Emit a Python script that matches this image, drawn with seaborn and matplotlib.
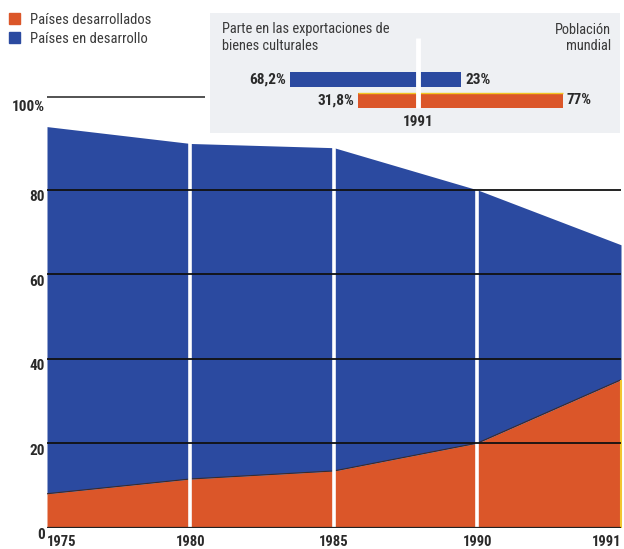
import numpy as np
import pandas as pd
import matplotlib
matplotlib.use("Agg")
import matplotlib.pyplot as plt
import matplotlib.transforms as mtransforms
from matplotlib.patches import Patch
import seaborn as sns

# ---------------- data ----------------
years = ["1975", "1980", "1985", "1990", "1991"]
desarrollados = [8.0, 11.5, 13.4, 20.0, 35.0]      # orange band (bottom)
en_desarrollo = [87.0, 79.5, 76.6, 60.0, 32.0]     # blue band (stacked on top)
y_ticks = [0, 20, 40, 60, 80]
y_tick_labels = ["0", "20", "40", "60", "80", "100%"]
legend_labels = ["Países desarrollados", "Países en desarrollo"]

inset_export = [68.2, 31.8]          # blue, orange
inset_population = [23, 77]          # blue, orange
inset_export_labels = ["68,2%", "31,8%"]
inset_population_labels = ["23%", "77%"]
inset_year = "1991"
inset_left_title = "Parte en las exportaciones de\nbienes culturales"
inset_right_title = "Población\nmundial"

BLUE = "#2b4aa0"
ORANGE = "#db5629"
TXT = "#2a2a2a"

sns.set_style("white")
plt.rcParams["font.family"] = ["Liberation Sans Narrow", "Roboto Condensed", "Roboto", "DejaVu Sans"]

W, H = 624, 549
fig = plt.figure(figsize=(W / 100, H / 100), dpi=100)
fig.patch.set_facecolor("white")

# ---------------- main stacked area ----------------
PX_PER_UNIT = 4.22
ax = fig.add_axes([47 / W, (H - 527.5) / H, (621 - 47) / W, 104 * PX_PER_UNIT / H])
ax.set_facecolor("none")

df = pd.DataFrame({"year": years, "x": np.arange(len(years)),
                   "desarrollados": desarrollados, "en_desarrollo": en_desarrollo})
df["top"] = df["desarrollados"] + df["en_desarrollo"]

ax.fill_between(df["x"], 0, df["desarrollados"], color=ORANGE, lw=0, zorder=1)
ax.fill_between(df["x"], df["desarrollados"], df["top"], color=BLUE, lw=0, zorder=1)
sns.lineplot(data=df, x="x", y="desarrollados", ax=ax, color="#3b2b2b", lw=0.8, zorder=2)

inner = df.iloc[1:-1]
ax.vlines(inner["x"], 0, inner["top"], colors="white", lw=2.6, zorder=3)
ax.vlines(df["x"].iloc[-1], 0, df["desarrollados"].iloc[-1], colors="#f2c530", lw=1.5,
          zorder=3, clip_on=False)

for v in y_ticks[1:]:
    ax.axhline(v, color="#111111", lw=1.3, zorder=4)
ax.axhline(0, color="#222222", lw=1.6, zorder=4)
ax.hlines(102, 0, 1.1, color="#444444", lw=1.3, zorder=4)

ax.set_xlim(0, len(years) - 1)
ax.set_ylim(0, 104)
for s in ax.spines.values():
    s.set_visible(False)

ax.set_yticks(y_ticks + [101.5])
ax.set_yticklabels(y_tick_labels, fontweight="bold", fontsize=11, color=TXT)
ax.tick_params(axis="y", length=0, pad=1.5)
off = mtransforms.ScaledTranslation(0, -6 / 100, fig.dpi_scale_trans)
for lab in ax.get_yticklabels():
    lab.set_transform(lab.get_transform() + off)

ax.set_xticks(df["x"])
ax.set_xticklabels(years, fontweight="bold", fontsize=10.5, color=TXT)
ax.tick_params(axis="x", length=0, pad=5.5)
xl = ax.get_xticklabels()
xl[0].set_ha("left")
xl[-1].set_ha("right")
ax.set_xlabel("")
ax.set_ylabel("")

# ---------------- inset box ----------------
CENTER = 418
PX_PER_PCT = 1.88
iax = fig.add_axes([210 / W, 1 - 133 / H, 410 / W, 120 / H])
iax.set_zorder(5)
iax.set_facecolor("#eef0f3")
iax.set_xlim(-(CENTER - 210) / PX_PER_PCT, (620 - CENTER) / PX_PER_PCT)
iax.set_ylim(133, 13)
for s in iax.spines.values():
    s.set_visible(False)
iax.set_xticks([])
iax.set_yticks([])

rows = [79.5, 100.5]
colors = [BLUE, ORANGE]
iax.barh(rows, [-v for v in inset_export], height=15, color=colors, lw=0, zorder=2)
iax.barh(rows, inset_population, height=15, color=colors, lw=0, zorder=2)
iax.hlines(rows[1] - 7.5, -inset_export[1], inset_population[1], color="#f3c623", lw=1, zorder=3)
iax.vlines(0, 38, rows[1] + 7.5, color="white", lw=3.5, zorder=4)

for r, v, lab in zip(rows, inset_export, inset_export_labels):
    iax.annotate(lab, (-v, r), xytext=(-2.5, 0), textcoords="offset points",
                 ha="right", va="center", fontsize=11, fontweight="bold", color=TXT)
for r, v, lab in zip(rows, inset_population, inset_population_labels):
    iax.annotate(lab, (v, r), xytext=(3, 0), textcoords="offset points",
                 ha="left", va="center", fontsize=11, fontweight="bold", color=TXT)
iax.text(0, 121.5, inset_year, ha="center", va="center", fontsize=11,
         fontweight="bold", color=TXT)
iax.text((222 - CENTER) / PX_PER_PCT, 22.5, inset_left_title, ha="left", va="top",
         fontsize=10.4, color="#3a3a3a", linespacing=1.25)
iax.text((611 - CENTER) / PX_PER_PCT, 22.5, inset_right_title, ha="right", va="top",
         fontsize=10.4, color="#3a3a3a", linespacing=1.25, multialignment="right")

# ---------------- legend ----------------
fig.legend(handles=[Patch(color=ORANGE), Patch(color=BLUE)], labels=legend_labels,
           loc="upper left", bbox_to_anchor=(9 / W, 1 - 12.5 / H), frameon=False,
           fontsize=10.5, handlelength=0.75, handleheight=0.75, handletextpad=0.7,
           labelspacing=0.35, borderaxespad=0, borderpad=0, labelcolor="#3a3a3a")

fig.savefig("out.png", dpi=100)
